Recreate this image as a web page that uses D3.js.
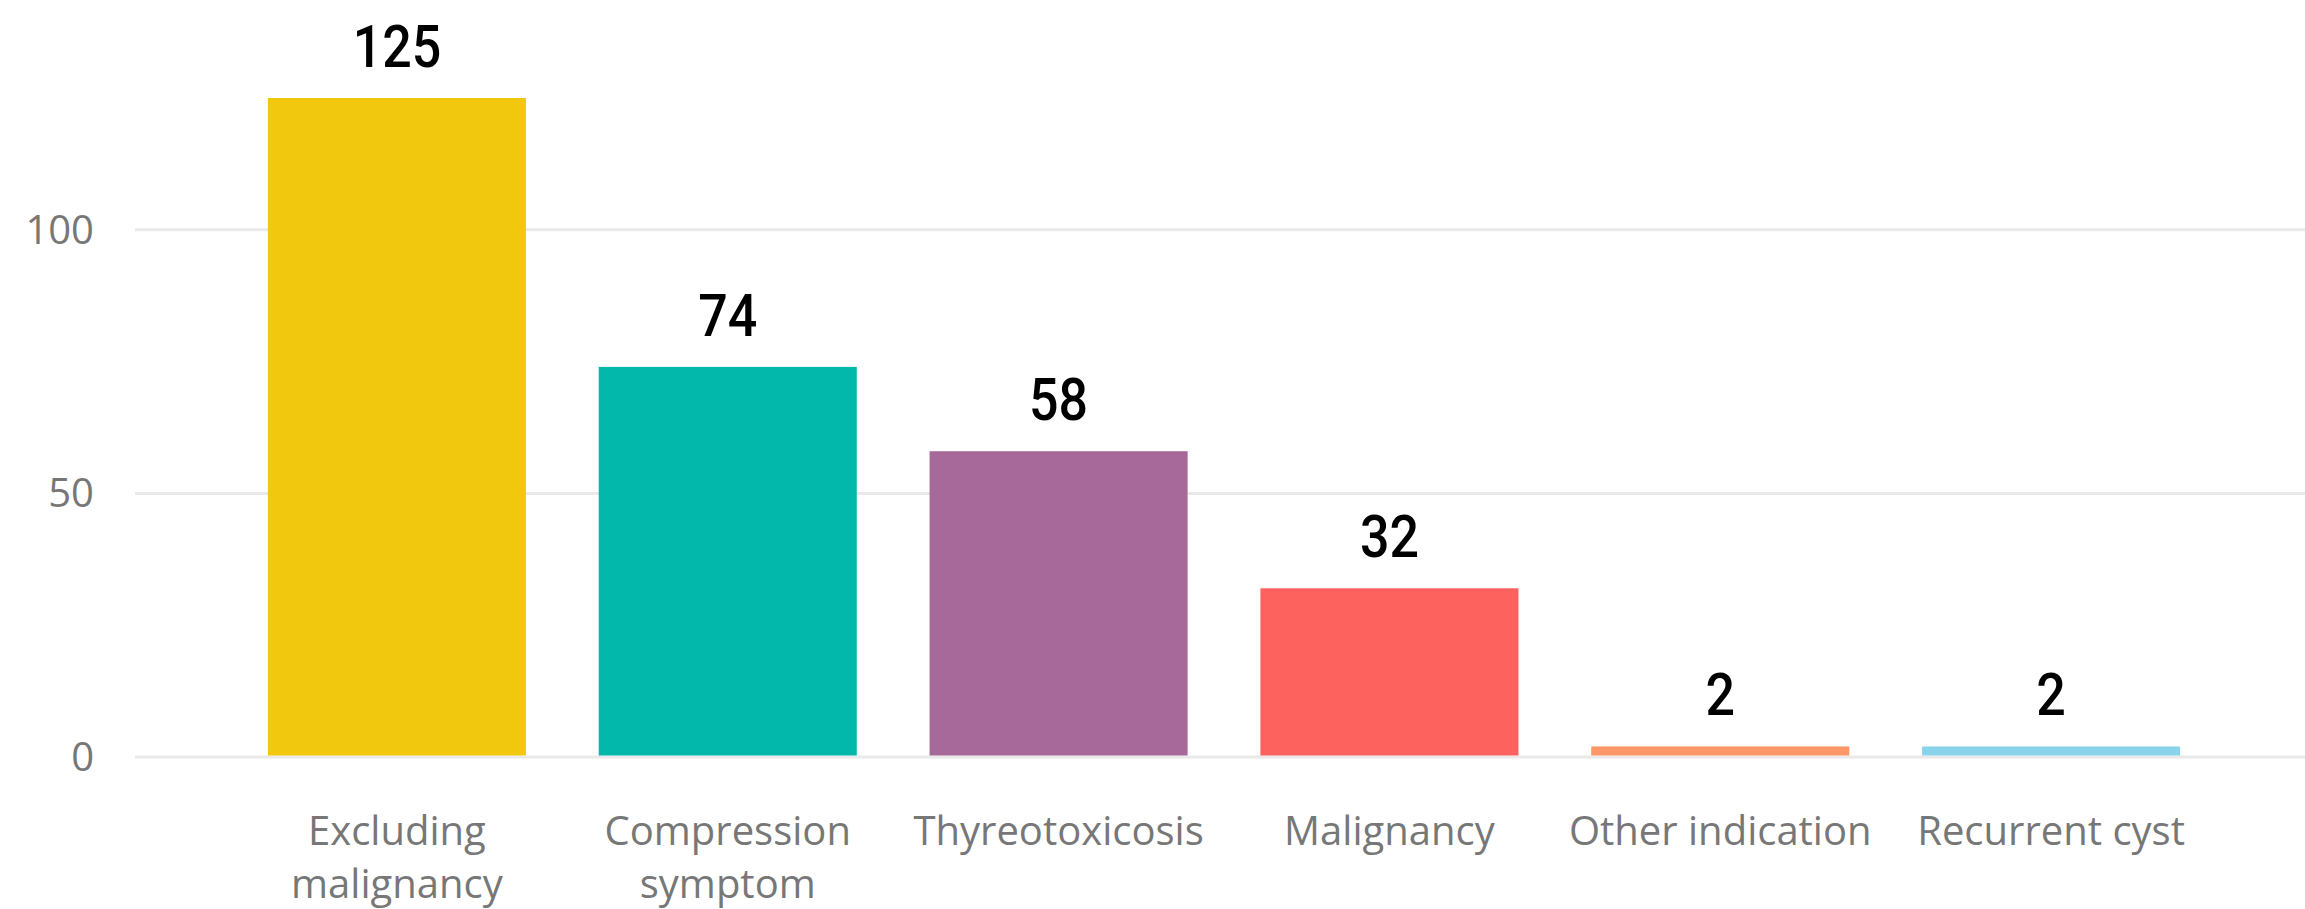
<!DOCTYPE html>
<html>
<head>
<meta charset="utf-8">
<script src="https://cdn.jsdelivr.net/npm/d3@7"></script>
<style>
  html, body { margin: 0; padding: 0; background: #fff; }
  svg { display: block; }
</style>
</head>
<body>
<div id="chart"></div>
<script>
// data
var categories = ["Excluding malignancy", "Compression symptom", "Thyreotoxicosis", "Malignancy", "Other indication", "Recurrent cyst"];
var counts = [125, 74, 58, 32, 2, 2];
var barColors = ["#F2C80F", "#01B8AA", "#A66999", "#FD625E", "#FE9666", "#8AD4EB"];
var tickValues = [0, 50, 100];

var width = 2305,
    height = 909;

var svg = d3.select("#chart")
    .append("svg")
    .attr("width", width)
    .attr("height", height);

var x = d3.scaleBand()
    .domain(categories)
    .range([231.5, 2216.5])
    .paddingInner(0.22)
    .paddingOuter(0.11);

var y = d3.scaleLinear()
    .domain([0, 125])
    .range([757, 98]);

// gridlines
svg.append("g")
    .selectAll("line")
    .data(tickValues)
    .join("line")
    .attr("x1", 135)
    .attr("x2", width)
    .attr("y1", function (d) { return y(d); })
    .attr("y2", function (d) { return y(d); })
    .style("stroke", "#E9E9E9")
    .style("stroke-width", "3px");

// y tick labels
svg.append("g")
    .selectAll("text")
    .data(tickValues)
    .join("text")
    .attr("x", 94)
    .attr("y", function (d) { return y(d) + 14; })
    .attr("text-anchor", "end")
    .style("font-family", "'Open Sans', sans-serif")
    .style("font-size", "40px")
    .style("fill", "#777777")
    .text(function (d) { return d; });

// bars
svg.append("g")
    .selectAll("rect")
    .data(counts)
    .join("rect")
    .attr("x", function (d, i) { return x(categories[i]); })
    .attr("width", x.bandwidth())
    .attr("y", function (d) { return y(d); })
    .attr("height", function (d) { return y(0) - 1.5 - y(d); })
    .style("fill", function (d, i) { return barColors[i]; });

// value labels
svg.append("g")
    .selectAll("text")
    .data(counts)
    .join("text")
    .attr("transform", function (d, i) {
        var cx = x(categories[i]) + x.bandwidth() / 2;
        return "translate(" + cx + "," + (y(d) - 31) + ") scale(0.88,1)";
    })
    .attr("text-anchor", "middle")
    .style("font-family", "Roboto, sans-serif")
    .style("font-weight", "500")
    .style("font-size", "59px")
    .style("fill", "#000")
    .text(function (d) { return d; });

// category labels, wrapped to the band step
var catLabels = svg.append("g")
    .selectAll("text")
    .data(categories)
    .join("text")
    .attr("x", function (d) { return x(d) + x.bandwidth() / 2; })
    .attr("y", 845)
    .attr("text-anchor", "middle")
    .style("font-family", "'Open Sans', sans-serif")
    .style("font-size", "40px")
    .style("fill", "#777777");

catLabels.each(function (d) {
    var text = d3.select(this),
        cx = text.attr("x"),
        words = d.split(" "),
        line = [],
        tspan = text.append("tspan").attr("x", cx).attr("dy", 0);
    words.forEach(function (w) {
        line.push(w);
        tspan.text(line.join(" "));
        if (tspan.node().getComputedTextLength() > x.step() - 10 && line.length > 1) {
            line.pop();
            tspan.text(line.join(" "));
            line = [w];
            tspan = text.append("tspan").attr("x", cx).attr("dy", 53).text(w);
        }
    });
});
</script>
</body>
</html>
